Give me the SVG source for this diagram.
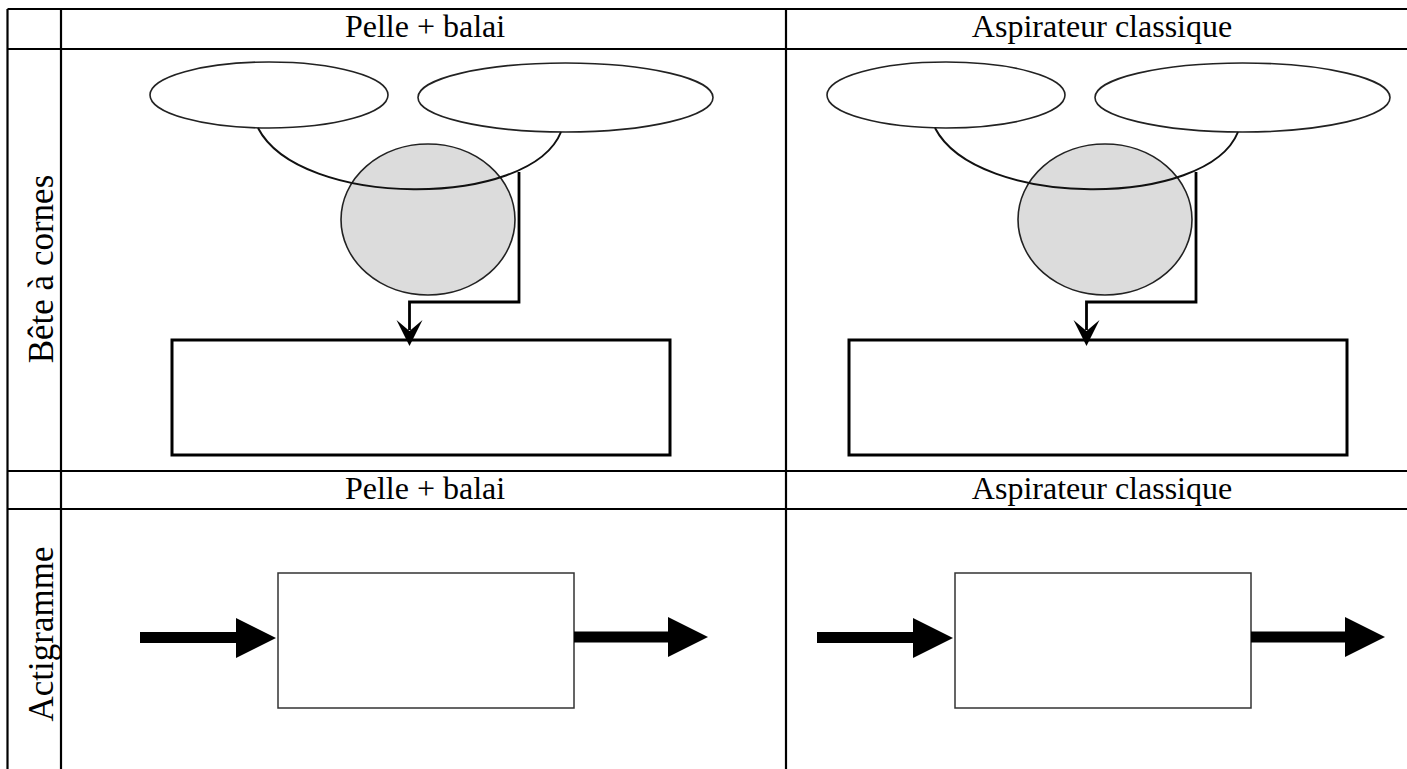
<svg xmlns="http://www.w3.org/2000/svg" width="1407" height="769" viewBox="0 0 1407 769">
<style>
.grid{stroke:#000;stroke-width:2.2;fill:none}
.lbl{font-family:"Liberation Serif","Times New Roman",serif;font-size:32px;fill:#000}
.vlbl{font-family:"Liberation Serif","Times New Roman",serif;font-size:35px;fill:#000}
.ell{fill:#fff;stroke:#222;stroke-width:1.6}
.circ{fill:#dcdcdc;stroke:#222;stroke-width:1.6}
.curve{fill:none;stroke:#111;stroke-width:2}
.elbow{fill:none;stroke:#000;stroke-width:2.8}
.res{fill:#fff;stroke:#000;stroke-width:3}
.box{fill:#fff;stroke:#333;stroke-width:1.5}
.blk{fill:#000}
</style>
<rect width="1407" height="769" fill="#fff"/>
<g id="table">
<path class="grid" d="M7.5,9 V769 M61,9 V769 M786,9 V769 M7.5,9 H1407 M7.5,49 H1407 M7.5,471 H1407 M7.5,509 H1407"/>
</g>
<g id="labels">
<text class="lbl" x="425" y="37" text-anchor="middle">Pelle + balai</text>
<text class="lbl" x="1102" y="37" text-anchor="middle">Aspirateur classique</text>
<text class="lbl" x="425" y="499" text-anchor="middle">Pelle + balai</text>
<text class="lbl" x="1102" y="499" text-anchor="middle">Aspirateur classique</text>
<text class="vlbl" transform="translate(53,269) rotate(-90)" text-anchor="middle">Bête à cornes</text>
<text class="vlbl" transform="translate(53,634) rotate(-90)" text-anchor="middle">Actigramme</text>
</g>
<g id="bac-pelle">
<g id="pelle-user"><ellipse class="ell" cx="269" cy="95" rx="119" ry="33"/></g>
<g id="pelle-matter"><ellipse class="ell" cx="565.5" cy="97.5" rx="147.5" ry="34.5"/></g>
<g id="pelle-product"><ellipse class="circ" cx="428" cy="219.5" rx="87" ry="75.5"/></g>
<g id="pelle-goal"><rect class="res" x="172" y="340" width="498" height="115"/></g>
</g>
<g id="bac-aspi" transform="translate(677,0)">
<g id="aspi-user"><ellipse class="ell" cx="269" cy="95" rx="119" ry="33"/></g>
<g id="aspi-matter"><ellipse class="ell" cx="565.5" cy="97.5" rx="147.5" ry="34.5"/></g>
<g id="aspi-product"><ellipse class="circ" cx="428" cy="219.5" rx="87" ry="75.5"/></g>
<g id="aspi-goal"><rect class="res" x="172" y="340" width="498" height="115"/></g>
</g>
<g id="act-pelle"><rect class="box" x="278" y="573" width="296" height="135"/></g>
<g id="act-aspi"><rect class="box" x="955" y="573" width="296" height="135"/></g>
<g id="connectors">
<g id="conn-pelle">
<path class="curve" d="M258,128 C300,209 530,209 561,132"/>
<path class="elbow" d="M519,172 V302 H409.5 V330"/>
<path class="blk" d="M409.5,346 L396.5,320 L409.5,331 L422.5,320 Z"/>
</g>
<g id="conn-aspi" transform="translate(677,0)">
<path class="curve" d="M258,128 C300,209 530,209 561,132"/>
<path class="elbow" d="M519,172 V302 H409.5 V330"/>
<path class="blk" d="M409.5,346 L396.5,320 L409.5,331 L422.5,320 Z"/>
</g>
<g id="act-arrows-pelle">
<path class="blk" d="M140,632 H236 V618 L276,638 L236,658 V643 H140 Z"/>
<path class="blk" d="M574,631.5 H668 V617 L708,637 L668,657 V642.5 H574 Z"/>
</g>
<g id="act-arrows-aspi" transform="translate(677,0)">
<path class="blk" d="M140,632 H236 V618 L276,638 L236,658 V643 H140 Z"/>
<path class="blk" d="M574,631.5 H668 V617 L708,637 L668,657 V642.5 H574 Z"/>
</g>
</g>
</svg>
